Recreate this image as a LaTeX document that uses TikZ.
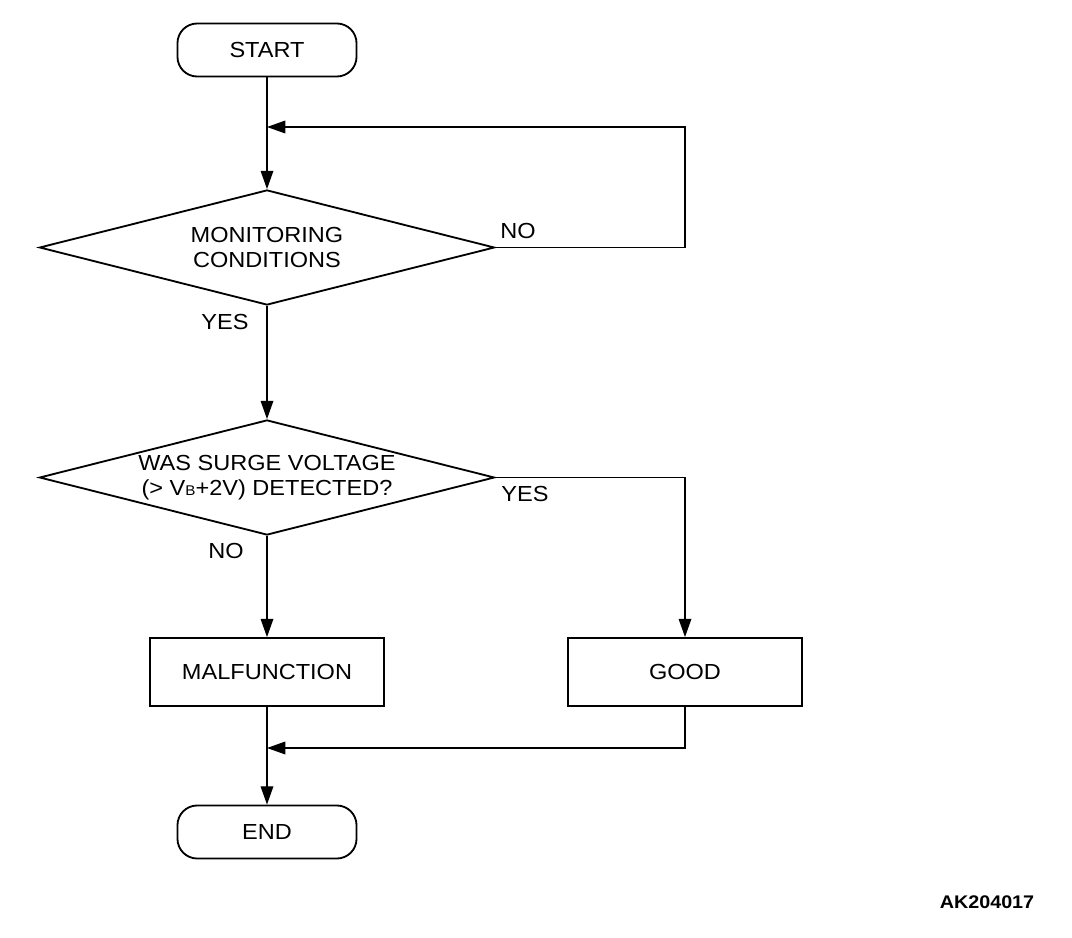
\documentclass[tikz,border=0pt]{standalone}
\usepackage{fontspec}
\setmainfont{Liberation Sans}[FakeStretch = 1.08]
\usetikzlibrary{shapes.geometric,arrows.meta}

\tikzset{
  term/.style = {draw, line width = 1.3pt, rounded corners = 14pt,
    minimum width = 4.475cm, minimum height = 1.325cm},
  decide/.style = {draw, diamond, aspect = 3.96, line width = 1.3pt,
    inner sep = 0pt, minimum width = 11.375cm, minimum height = 2.875cm,
    align = center},
  proc/.style = {draw, line width = 1.3pt, minimum width = 5.85cm,
    minimum height = 1.7cm},
  flow/.style = {line width = 0.9pt, -{Triangle[length = 13pt, width = 9pt]}},
  lbl/.style = {inner sep = 0pt}
}

\begin{document}
\begin{tikzpicture}[x = 0.025cm, y = -0.025cm,
  font = \fontsize{15.5}{17.5}\selectfont]
\useasboundingbox (0, 0) rectangle (1072, 938);
% boxes
\node (start) [term] at (267, 50) {START};
\node (mon) [decide] at (267, 247.5) {MONITORING\\CONDITIONS};
\node (surge) [decide] at (267, 477.5)
  {WAS SURGE VOLTAGE\\(> V{\fontsize{10}{10}\selectfont B}+2V) DETECTED?};
\node (malf) [proc] at (267, 672) {MALFUNCTION};
\node (good) [proc] at (685, 672) {GOOD};
\node (stop) [term] at (267, 832) {END};
% loop and join points
\coordinate (loopTR) at (685, 127);
\coordinate (loopIn) at (267, 127);
\coordinate (joinIn) at (267, 748);
% connectors
\draw [flow] (start.south) -- (mon.north);
\draw [flow] (mon.east) -| (loopTR) -- (loopIn);
\draw [flow] (mon.south) -- (surge.north);
\draw [flow] (surge.south) -- (malf.north);
\draw [flow] (surge.east) -| (good.north);
\draw [flow] (malf.south) -- (stop.north);
\draw [flow] (good.south) |- (joinIn);
% answers
\node (monNo) [lbl] at (518, 231) {NO};
\node (monYes) [lbl] at (225, 322) {YES};
\node (surgeYes) [lbl] at (525, 494) {YES};
\node (surgeNo) [lbl] at (226, 551) {NO};
\node (code) [lbl] at (987, 902) {\fontsize{13}{15}\selectfont\bfseries AK204017};
\end{tikzpicture}
\end{document}
